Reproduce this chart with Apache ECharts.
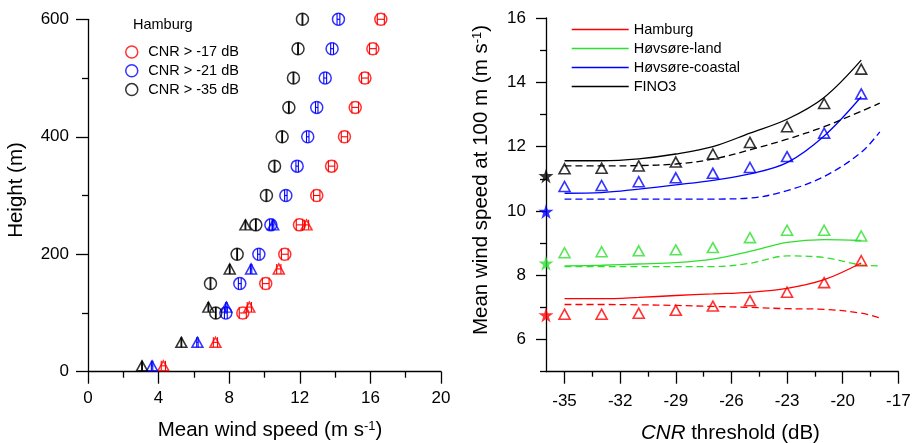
<!DOCTYPE html>
<html>
<head>
<meta charset="utf-8">
<script src="https://cdn.jsdelivr.net/npm/echarts@6/dist/echarts.min.js"></script>
<style>
  html, body { margin: 0; padding: 0; background: #fff; }
  #chart { width: 916px; height: 443px; }
</style>
</head>
<body>
<div id="chart"></div>
<script>
// ---------- Left panel: Hamburg wind profiles ----------
const lidarHeights = [100, 150, 200, 250, 300, 350, 400, 450, 500, 550, 600];
const lidarCnr17 = [8.77, 10.07, 11.15, 11.98, 12.96, 13.80, 14.53, 15.14, 15.69, 16.14, 16.59];
const lidarCnr21 = [7.81, 8.60, 9.68, 10.36, 11.21, 11.85, 12.45, 12.96, 13.44, 13.83, 14.19];
const lidarCnr35 = [7.24, 6.94, 8.45, 9.51, 10.11, 10.57, 11.00, 11.38, 11.64, 11.90, 12.15];
const lidarErr17 = [0.20, 0.19, 0.19, 0.18, 0.18, 0.18, 0.18, 0.19, 0.19, 0.19, 0.20];
const lidarErr21 = [0.08, 0.08, 0.07, 0.07, 0.07, 0.07, 0.07, 0.07, 0.08, 0.08, 0.08];
const lidarErr35 = [0.02, 0.02, 0.02, 0.02, 0.02, 0.02, 0.02, 0.02, 0.02, 0.02, 0.02];

const mastHeights = [10, 50, 110, 175, 250];
const mastCnr17 = [4.27, 7.22, 9.14, 10.81, 12.38];
const mastCnr21 = [3.63, 6.20, 7.84, 9.24, 10.49];
const mastCnr35 = [3.06, 5.29, 6.82, 8.03, 8.92];
const mastErr17 = [0.12, 0.12, 0.12, 0.12, 0.12];
const mastErr21 = [0.04, 0.04, 0.04, 0.04, 0.04];
const mastErr35 = [0.02, 0.02, 0.02, 0.02, 0.02];

const profileLegend = ['CNR > -17 dB', 'CNR > -21 dB', 'CNR > -35 dB'];

// ---------- Right panel: 100 m wind speed vs CNR threshold ----------
const cnrThreshold = [-35, -33, -31, -29, -27, -25, -23, -21, -19];
const cnrThresholdDashed = [-35, -33, -31, -29, -27, -25, -23, -21, -19, -18];
const starThreshold = -36;

const siteNames = ['Hamburg', 'Høvsøre-land', 'Høvsøre-coastal', 'FINO3'];
const siteTriangles = [
  [6.79, 6.79, 6.82, 6.91, 7.04, 7.21, 7.47, 7.77, 8.45],
  [8.70, 8.73, 8.76, 8.79, 8.86, 9.17, 9.40, 9.40, 9.22],
  [10.76, 10.79, 10.91, 11.03, 11.17, 11.35, 11.69, 12.42, 13.64],
  [11.31, 11.33, 11.40, 11.52, 11.77, 12.13, 12.62, 13.34, 14.41]
];
const siteSolid = [
  [7.27, 7.27, 7.31, 7.37, 7.42, 7.47, 7.59, 7.86, 8.38],
  [8.29, 8.31, 8.35, 8.39, 8.50, 8.74, 9.02, 9.11, 9.08],
  [10.55, 10.57, 10.68, 10.81, 10.95, 11.15, 11.50, 12.33, 13.55],
  [11.56, 11.56, 11.62, 11.77, 12.00, 12.42, 12.85, 13.53, 14.69]
];
const siteDashed = [
  [7.09, 7.09, 7.08, 7.06, 7.03, 7.00, 6.96, 6.94, 6.82, 6.67],
  [8.27, 8.27, 8.27, 8.27, 8.27, 8.37, 8.60, 8.55, 8.32, 8.29],
  [10.37, 10.37, 10.37, 10.37, 10.37, 10.40, 10.63, 11.07, 11.82, 12.46],
  [11.40, 11.40, 11.41, 11.46, 11.61, 11.90, 12.23, 12.62, 13.10, 13.35]
];
const siteStars = [6.76, 8.37, 9.98, 11.09];

// axis tick / label values
const cnrLabelTicks = [-35, -32, -29, -26, -23, -20, -17];
const cnrMinorTicks = [-33.5, -30.5, -27.5, -24.5, -21.5, -18.5];
const speedLabelTicks = [6, 8, 10, 12, 14, 16];
const speedMinorTicks = [5, 7, 9, 11, 13, 15];

const RED = '#ff0000', GREEN = '#2ee02e', BLUE = '#0000ff', BLACK = '#000000';
const siteColors = [RED, GREEN, BLUE, BLACK];
const FONT = '"Liberation Sans", Arial, Helvetica, sans-serif';
const STAR = 'path://M50,0 L61.2,34.5 L97.6,34.5 L68.2,55.9 L79.4,90.5 L50,69.1 L20.6,90.5 L31.8,55.9 L2.4,34.5 L38.8,34.5 Z';

const zip = (xs, ys) => xs.map((x, i) => [x, ys[i]]);
const zip3 = (xs, ys, es) => xs.map((x, i) => [x, ys[i], es[i]]);

// horizontal error bar with end caps, centred on each marker
function errorBars(color, cap) {
  return function (params, api) {
    const x = api.value(0), y = api.value(1), e = api.value(2);
    const c = api.coord([x, y]);
    const l = api.coord([x - e, y])[0];
    const r = api.coord([x + e, y])[0];
    const st = () => ({ stroke: color, lineWidth: 1.1, fill: null });
    return {
      type: 'group',
      children: [
        { type: 'line', shape: { x1: l, y1: c[1], x2: r, y2: c[1] }, style: st() },
        { type: 'line', shape: { x1: l, y1: c[1] - cap, x2: l, y2: c[1] + cap }, style: st() },
        { type: 'line', shape: { x1: r, y1: c[1] - cap, x2: r, y2: c[1] + cap }, style: st() }
      ]
    };
  };
}

const axisLineStyle = { color: '#000', width: 1.3 };
const labelStyle = { fontSize: 17, color: '#000', fontFamily: FONT };

const series = [];

// profile markers
const profiles = [
  { name: profileLegend[0], color: RED, lidar: lidarCnr17, lerr: lidarErr17, mast: mastCnr17, merr: mastErr17 },
  { name: profileLegend[1], color: BLUE, lidar: lidarCnr21, lerr: lidarErr21, mast: mastCnr21, merr: mastErr21 },
  { name: profileLegend[2], color: BLACK, lidar: lidarCnr35, lerr: lidarErr35, mast: mastCnr35, merr: mastErr35 }
];
profiles.forEach(p => {
  series.push({
    type: 'custom', name: p.name + ' error', xAxisIndex: 0, yAxisIndex: 0,
    data: zip3(p.lidar, lidarHeights, p.lerr), encode: { x: 0, y: 1 },
    renderItem: errorBars(p.color, 6), silent: true, z: 3
  });
  series.push({
    type: 'custom', name: p.name + ' mast error', xAxisIndex: 0, yAxisIndex: 0,
    data: zip3(p.mast, mastHeights, p.merr), encode: { x: 0, y: 1 },
    renderItem: errorBars(p.color, 5), silent: true, z: 3
  });
  series.push({
    type: 'scatter', name: p.name, xAxisIndex: 0, yAxisIndex: 0,
    data: zip(p.lidar, lidarHeights), symbol: 'circle', symbolSize: 12,
    itemStyle: { color: 'rgba(0,0,0,0)', borderColor: p.color, borderWidth: 1.5 },
    clip: false, silent: true, z: 4
  });
  series.push({
    type: 'scatter', name: p.name + ' mast', xAxisIndex: 0, yAxisIndex: 0,
    data: zip(p.mast, mastHeights), symbol: 'triangle', symbolSize: [11, 10],
    itemStyle: { color: 'rgba(0,0,0,0)', borderColor: p.color, borderWidth: 1.5 },
    clip: false, silent: true, z: 4
  });
});

// site curves, triangles and stars
siteNames.forEach((name, i) => {
  const c = siteColors[i];
  series.push({
    type: 'line', name: name, xAxisIndex: 1, yAxisIndex: 1,
    data: zip(cnrThreshold, siteSolid[i]), symbol: 'none', smooth: 0.35,
    lineStyle: { color: c, width: 1.3 }, itemStyle: { color: c }, silent: true, z: 2
  });
  series.push({
    type: 'line', name: name + ' dashed', xAxisIndex: 1, yAxisIndex: 1,
    data: zip(cnrThresholdDashed, siteDashed[i]), symbol: 'none', smooth: 0.35,
    lineStyle: { color: c, width: 1.3, type: [7, 4] }, itemStyle: { color: c }, silent: true, z: 2
  });
  series.push({
    type: 'scatter', name: name + ' triangles', xAxisIndex: 1, yAxisIndex: 1,
    data: zip(cnrThreshold, siteTriangles[i]), symbol: 'triangle', symbolSize: [11, 10],
    itemStyle: { color: 'rgba(0,0,0,0)', borderColor: c, borderWidth: 1.6 },
    clip: false, silent: true, z: 4
  });
  series.push({
    type: 'scatter', name: name + ' star', xAxisIndex: 1, yAxisIndex: 1,
    data: [[starThreshold, siteStars[i]]], symbol: STAR, symbolSize: 15,
    itemStyle: { color: c }, clip: false, silent: true, z: 5
  });
});

const option = {
  backgroundColor: '#ffffff',
  animation: false,
  textStyle: { fontFamily: FONT },
  grid: [
    { left: 88, top: 19.3, width: 353, height: 352.4 },
    { left: 546, top: 18, width: 352.3, height: 353.7 }
  ],
  xAxis: [
    {
      gridIndex: 0, type: 'value', min: 0, max: 20, interval: 4, position: 'bottom',
      axisLine: { onZero: false, lineStyle: axisLineStyle },
      axisTick: { length: 12, lineStyle: axisLineStyle },
      minorTick: { show: true, splitNumber: 2, length: 6, lineStyle: axisLineStyle },
      splitLine: { show: false }, minorSplitLine: { show: false },
      axisLabel: Object.assign({ margin: 18 }, labelStyle)
    },
    {
      gridIndex: 1, type: 'value', min: -36, max: -17, position: 'bottom',
      axisLine: { onZero: false, lineStyle: axisLineStyle },
      axisTick: { length: 12, lineStyle: axisLineStyle, customValues: cnrLabelTicks },
      splitLine: { show: false },
      axisLabel: Object.assign({ margin: 21, customValues: cnrLabelTicks }, labelStyle)
    },
    {
      gridIndex: 1, type: 'value', min: -36, max: -17, position: 'bottom',
      axisLine: { show: false, onZero: false },
      axisTick: { length: 5, lineStyle: axisLineStyle, customValues: cnrMinorTicks },
      splitLine: { show: false },
      axisLabel: { show: false }
    }
  ],
  yAxis: [
    {
      gridIndex: 0, type: 'value', min: 0, max: 600, interval: 200, position: 'left',
      axisLine: { onZero: false, lineStyle: axisLineStyle },
      axisTick: { length: 12, lineStyle: axisLineStyle },
      minorTick: { show: true, splitNumber: 2, length: 6, lineStyle: axisLineStyle },
      splitLine: { show: false }, minorSplitLine: { show: false },
      axisLabel: Object.assign({ margin: 19 }, labelStyle)
    },
    {
      gridIndex: 1, type: 'value', min: 5, max: 16, position: 'left',
      axisLine: { onZero: false, lineStyle: axisLineStyle },
      axisTick: { length: 10, lineStyle: axisLineStyle, customValues: speedLabelTicks },
      splitLine: { show: false },
      axisLabel: Object.assign({ margin: 20, customValues: speedLabelTicks }, labelStyle)
    },
    {
      gridIndex: 1, type: 'value', min: 5, max: 16, position: 'left',
      axisLine: { show: false, onZero: false },
      axisTick: { length: 6, lineStyle: axisLineStyle, customValues: speedMinorTicks },
      splitLine: { show: false },
      axisLabel: { show: false }
    }
  ],
  legend: [
    {
      data: profileLegend.map((n, i) => ({
        name: n, icon: 'circle',
        itemStyle: { color: 'rgba(0,0,0,0)', borderColor: profiles[i].color, borderWidth: 1.5 }
      })),
      orient: 'vertical', left: 125, top: 44.5, padding: 0,
      itemWidth: 23, itemHeight: 12, itemGap: 3.8, selectedMode: false,
      textStyle: { fontSize: 14.5, color: '#000', fontFamily: FONT }
    },
    {
      data: siteNames.map((n, i) => ({
        name: n, icon: 'rect', itemStyle: { color: siteColors[i], borderWidth: 0 }
      })),
      orient: 'vertical', left: 571.7, top: 22, padding: 0,
      itemWidth: 57, itemHeight: 1.4, itemGap: 4, selectedMode: false,
      textStyle: { fontSize: 14.5, color: '#000', fontFamily: FONT }
    }
  ],
  graphic: [
    {
      type: 'text', x: 133, y: 25, silent: true,
      style: { text: 'Hamburg', fontSize: 14.5, fontFamily: FONT, fill: '#000', align: 'left', verticalAlign: 'middle' }
    },
    {
      type: 'text', x: 16.5, y: 190, rotation: Math.PI / 2, silent: true,
      style: { text: 'Height (m)', fontSize: 20.5, fontFamily: FONT, fill: '#000', align: 'center', verticalAlign: 'middle' }
    },
    {
      type: 'text', x: 270, y: 430.5, silent: true,
      style: {
        text: 'Mean wind speed (m s{sup|-1})', fontSize: 20.5, fontFamily: FONT, fill: '#000',
        align: 'center', verticalAlign: 'middle',
        rich: { sup: { fontSize: 13, fontFamily: FONT, fill: '#000', verticalAlign: 'top', padding: [0, 0, 8, 0] } }
      }
    },
    {
      type: 'text', x: 481, y: 180, rotation: Math.PI / 2, silent: true,
      style: {
        text: 'Mean wind speed at 100 m (m s{sup|-1})', fontSize: 20.5, fontFamily: FONT, fill: '#000',
        align: 'center', verticalAlign: 'middle',
        rich: { sup: { fontSize: 13, fontFamily: FONT, fill: '#000', verticalAlign: 'top', padding: [0, 0, 8, 0] } }
      }
    },
    {
      type: 'text', x: 730.5, y: 433, silent: true,
      style: {
        text: '{it|CNR} threshold (dB)', fontSize: 20.5, fontFamily: FONT, fill: '#000',
        align: 'center', verticalAlign: 'middle',
        rich: { it: { fontSize: 20.5, fontStyle: 'italic', fontFamily: FONT, fill: '#000' } }
      }
    }
  ],
  series: series
};

const chart = echarts.init(document.getElementById('chart'), null, { renderer: 'canvas' });
chart.setOption(option);
</script>
</body>
</html>
